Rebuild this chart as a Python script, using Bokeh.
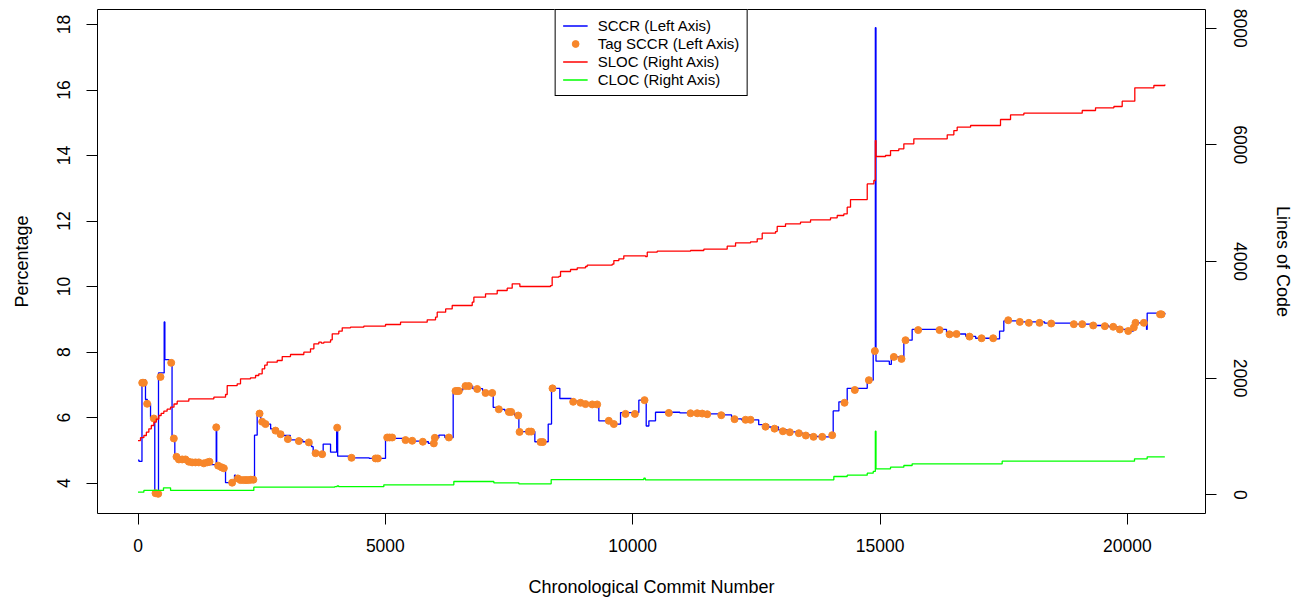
import math
from bokeh.plotting import figure
from bokeh.models import (Range1d, LinearAxis, FixedTicker, Legend, LegendItem,
                          ColumnDataSource)
from bokeh.embed import file_html
from bokeh.resources import INLINE

# ---------------- data ----------------
# SCCR (percentage, left axis) as a step series: value holds from x until next x
sccr_x = [0, 20, 80, 151, 189, 253, 339, 414, 529, 543, 628, 688, 744, 787, 887, 987,
          1186, 1385, 1435, 1581, 1591, 1684, 1769, 1951, 1973, 2083, 2183, 2355, 2409,
          2482, 2541, 2681, 2830, 2930, 3079, 3329, 3478, 3508, 3541, 3743, 3892, 4016,
          4036, 4275, 4674, 5003, 5172, 5372, 5571, 5720, 5870, 6000, 6081, 6203, 6371,
          6568, 6767, 6966, 7066, 7180, 7265, 7415, 7564, 7614, 7699, 8022, 8292, 8359,
          8527, 8760, 8959, 9209, 9315, 9557, 9754, 10124, 10273, 10327, 10461, 10953,
          11451, 11850, 11999, 12198, 12547, 12746, 12946, 13145, 13295, 13444, 13594,
          13893, 13992, 14053, 14168, 14336, 14741, 14862, 14905, 14918, 15188, 15228,
          15481, 15649, 16344, 16484, 16733, 16932, 17281, 17416, 17502, 17829, 18327,
          18925, 19324, 19623, 19822, 20022, 20121, 20164, 20387, 20400, 20757]
sccr_y = [4.70, 4.66, 7.15, 6.55, 6.42, 6.00, 3.68, 7.36, 8.92, 7.77, 7.70, 5.36, 4.80,
          4.72, 4.68, 4.63, 4.62, 4.60, 4.56, 5.70, 4.52, 4.47, 4.01, 4.24, 4.12, 4.10,
          4.11, 5.46, 6.12, 5.90, 5.80, 5.65, 5.55, 5.45, 5.32, 5.26, 5.22, 5.11, 4.91,
          5.19, 4.94, 5.69, 4.82, 4.77, 4.75, 5.41, 5.36, 5.31, 5.28, 5.26, 5.21, 5.38,
          5.46, 5.39, 6.84, 6.96, 6.88, 6.82, 6.78, 6.31, 6.25, 6.20, 6.15, 6.06, 5.57,
          5.26, 5.80, 6.89, 6.58, 6.50, 6.43, 6.40, 5.90, 5.80, 6.15, 6.53, 5.74, 5.90,
          6.16, 6.14, 6.11, 6.08, 5.96, 5.93, 5.78, 5.71, 5.62, 5.56, 5.52, 5.47, 5.42,
          5.41, 5.46, 6.20, 6.48, 6.89, 7.14, 8.06, 17.90, 7.72, 7.62, 7.85, 8.36, 8.69,
          8.59, 8.55, 8.48, 8.42, 8.40, 8.64, 8.95, 8.92, 8.88, 8.85, 8.81, 8.77, 8.69,
          8.64, 8.75, 8.89, 8.69, 9.19, 9.15]

# Tag SCCR points (left axis)
tag_x = [85, 118, 185, 320, 354, 408, 454, 671, 724, 778, 826, 893, 960, 1027, 1094, 1161,
         1229, 1330, 1398, 1445, 1581, 1620, 1688, 1735, 1903, 2018, 2072, 2133, 2183, 2232,
         2282, 2332, 2457, 2510, 2577, 2779, 2881, 3029, 3251, 3453, 3589, 3723, 4026, 4316,
         4802, 4848, 5037, 5085, 5138, 5408, 5543, 5757, 5980, 6000, 6284, 6418, 6452, 6486,
         6620, 6688, 6857, 7025, 7160, 7294, 7496, 7544, 7686, 7713, 7901, 7949, 8136, 8184,
         8379, 8797, 8945, 9046, 9182, 9282, 9517, 9619, 9855, 10044, 10239, 10730, 11169,
         11304, 11405, 11507, 11790, 12059, 12281, 12382, 12685, 12867, 13036, 13176, 13358,
         13500, 13655, 13831, 14033, 14282, 14490, 14774, 14895, 15279, 15434, 15515, 15771,
         16203, 16404, 16546, 16809, 17052, 17287, 17591, 17825, 18008, 18224, 18460, 18917,
         19087, 19309, 19544, 19714, 19847, 20017, 20130, 20164, 20333, 20660, 20690]
tag_y = [7.06, 7.06, 6.42, 5.97, 3.69, 3.67, 7.24, 7.67, 5.36, 4.80, 4.72, 4.72, 4.72, 4.65,
         4.63, 4.63, 4.63, 4.60, 4.63, 4.65, 5.70, 4.53, 4.48, 4.45, 4.01, 4.14, 4.09, 4.09,
         4.09, 4.09, 4.10, 4.10, 6.12, 5.87, 5.80, 5.60, 5.49, 5.34, 5.28, 5.24, 4.91, 4.88,
         5.69, 4.77, 4.75, 4.75, 5.39, 5.39, 5.39, 5.31, 5.29, 5.26, 5.21, 5.38, 5.39, 6.81,
         6.81, 6.81, 6.96, 6.96, 6.87, 6.75, 6.75, 6.25, 6.17, 6.17, 6.06, 5.56, 5.57, 5.57,
         5.25, 5.25, 6.89, 6.48, 6.45, 6.41, 6.40, 6.40, 5.90, 5.80, 6.11, 6.11, 6.53, 6.14,
         6.13, 6.13, 6.12, 6.10, 6.07, 5.95, 5.93, 5.93, 5.72, 5.66, 5.58, 5.55, 5.52, 5.45,
         5.41, 5.41, 5.46, 6.45, 6.84, 7.14, 8.03, 7.85, 7.79, 8.36, 8.67, 8.67, 8.54, 8.55,
         8.47, 8.42, 8.42, 8.97, 8.92, 8.89, 8.89, 8.87, 8.85, 8.85, 8.81, 8.79, 8.77, 8.69,
         8.64, 8.75, 8.89, 8.89, 9.15, 9.15]

# SLOC (lines of code, right axis), step series
sloc_x = [0, 50, 118, 169, 219, 269, 320, 369, 421, 468, 522, 588, 657, 727, 792, 1027,
          1533, 1769, 1803, 2005, 2072, 2274, 2376, 2442, 2510, 2561, 2611, 2814, 2915, 3082,
          3352, 3487, 3555, 3655, 3707, 3756, 3892, 3926, 4059, 4128, 4295, 4564, 5003, 5307,
          5846, 6014, 6048, 6219, 6351, 6756, 6789, 7025, 7261, 7463, 7564, 7719, 8339, 8372,
          8507, 8541, 8743, 8879, 9046, 9080, 9585, 9619, 9720, 9820, 10259, 10294, 10495,
          11169, 11438, 11910, 12079, 12382, 12517, 12618, 12887, 12921, 13089, 13392, 13595,
          13999, 14134, 14268, 14336, 14403, 14741, 14875, 14905, 14918, 15110, 15212, 15379,
          15481, 15683, 16358, 16492, 16559, 16830, 17435, 17638, 17907, 19087, 19356, 19727,
          19895, 20150, 20535, 20757]
sloc_y = [930, 979, 1016, 1074, 1131, 1188, 1245, 1298, 1359, 1397, 1434, 1467, 1502, 1556,
          1605, 1645, 1673, 1719, 1873, 1902, 1988, 2005, 2045, 2073, 2160, 2222, 2274, 2302,
          2370, 2405, 2445, 2502, 2588, 2616, 2600, 2616, 2657, 2759, 2805, 2863, 2874, 2890,
          2919, 2959, 2999, 3045, 3130, 3187, 3245, 3302, 3388, 3445, 3502, 3542, 3616, 3571,
          3587, 3731, 3743, 3828, 3862, 3891, 3914, 3936, 3953, 4016, 4045, 4097, 4085, 4159,
          4176, 4188, 4211, 4262, 4319, 4336, 4388, 4485, 4513, 4600, 4645, 4673, 4714, 4748,
          4788, 4816, 4931, 5062, 5330, 5388, 6073, 5800, 5817, 5902, 5931, 6017, 6102, 6171,
          6245, 6302, 6331, 6434, 6514, 6542, 6588, 6634, 6657, 6748, 6977, 7017, 7034]

# CLOC (lines of code, right axis), step series
cloc_x = [0, 118, 515, 658, 2341, 3976, 4026, 4056, 4969, 6384, 7193, 7698, 8352, 10205,
          10225, 10255, 14033, 14066, 14336, 14741, 14862, 14905, 14918, 15212, 15481, 15649,
          17469, 20144, 20400, 20757]
cloc_y = [45, 74, 120, 74, 130, 139, 154, 139, 171, 228, 205, 188, 260, 260, 283, 257, 257,
          313, 336, 370, 400, 1089, 445, 473, 502, 531, 576, 616, 651, 651]

x_ticks = [0, 5000, 10000, 15000, 20000]
x_tick_labels = ["0", "5000", "10000", "15000", "20000"]
left_ticks = [4, 6, 8, 10, 12, 14, 16, 18]
left_tick_labels = ["4", "6", "8", "10", "12", "14", "16", "18"]
right_ticks = [0, 2000, 4000, 6000, 8000]
right_tick_labels = ["0", "2000", "4000", "6000", "8000"]

series_names = ["SCCR (Left Axis)", "Tag SCCR (Left Axis)", "SLOC (Right Axis)", "CLOC (Right Axis)"]
x_title = "Chronological Commit Number"
left_title = "Percentage"
right_title = "Lines of Code"

# ---------------- figure ----------------
FONT = "Liberation Sans"
BLUE, ORANGE, RED, GREEN = "#0000FF", "#F7862A", "#FF0000", "#00FF00"

p = figure(width=1298, height=600, output_backend="svg", toolbar_location=None,
           x_range=Range1d(-819, 21579), y_range=Range1d(3.069, 18.458),
           min_border_left=97, min_border_right=93, min_border_top=9, min_border_bottom=87,
           background_fill_color="white", border_fill_color="white")
p.extra_y_ranges = {"loc": Range1d(-321, 8320)}
p.xgrid.visible = False
p.ygrid.visible = False
p.outline_line_color = "black"
p.outline_line_width = 1
p.outline_line_alpha = 1

right_axis = LinearAxis(y_range_name="loc")
p.add_layout(right_axis, "right")

p.xaxis.ticker = FixedTicker(ticks=x_ticks)
p.xaxis.major_label_overrides = dict(zip(x_ticks, x_tick_labels))
p.yaxis[0].ticker = FixedTicker(ticks=left_ticks)
p.yaxis[0].major_label_overrides = dict(zip(left_ticks, left_tick_labels))
right_axis.ticker = FixedTicker(ticks=right_ticks)
right_axis.major_label_overrides = dict(zip(right_ticks, right_tick_labels))

for ax in p.axis:
    ax.axis_line_color = None
    ax.major_tick_out = 11
    ax.major_tick_in = 0
    ax.major_tick_line_color = "black"
    ax.major_tick_line_width = 1
    ax.minor_tick_line_color = None
    ax.major_label_text_font = FONT
    ax.major_label_text_font_size = "17.5px"
    ax.major_label_text_color = "black"
    ax.axis_label_text_font = FONT
    ax.axis_label_text_font_size = "18px"
    ax.axis_label_text_font_style = "normal"
    ax.axis_label_text_color = "black"

p.xaxis.major_label_standoff = 14
p.xaxis.axis_label = x_title
p.xaxis.axis_label_standoff = 22

left_axis = p.yaxis[0]
left_axis.major_label_orientation = "vertical"
left_axis.major_label_standoff = 16
left_axis.axis_label = left_title
left_axis.axis_label_standoff = 23

right_axis.major_label_orientation = "vertical"
right_axis.major_label_standoff = 17
right_axis.axis_label = right_title
right_axis.axis_label_standoff = 23

# ---------------- data marks ----------------
src_sccr = ColumnDataSource(dict(x=sccr_x, y=sccr_y))
src_tag = ColumnDataSource(dict(x=tag_x, y=tag_y))
src_sloc = ColumnDataSource(dict(x=sloc_x, y=sloc_y))
src_cloc = ColumnDataSource(dict(x=cloc_x, y=cloc_y))

r_sccr = p.step("x", "y", source=src_sccr, mode="after", line_color=BLUE, line_width=1.3)
r_tag = p.scatter("x", "y", source=src_tag, size=7, fill_color=ORANGE, line_color=ORANGE)
r_sloc = p.step("x", "y", source=src_sloc, mode="after", line_color=RED, line_width=1.3,
                y_range_name="loc")
r_cloc = p.step("x", "y", source=src_cloc, mode="after", line_color=GREEN, line_width=1.3,
                y_range_name="loc")

legend = Legend(items=[LegendItem(label=series_names[0], renderers=[r_sccr]),
                       LegendItem(label=series_names[1], renderers=[r_tag]),
                       LegendItem(label=series_names[2], renderers=[r_sloc]),
                       LegendItem(label=series_names[3], renderers=[r_cloc])],
                location="top_center", orientation="vertical", margin=0, padding=7,
                spacing=1, glyph_width=25, glyph_height=17, label_height=17,
                label_standoff=10, label_text_font=FONT, label_text_font_size="15px",
                label_text_color="black",
                border_line_color="black", border_line_width=1, border_line_alpha=1,
                background_fill_color="white", background_fill_alpha=1)
p.add_layout(legend)

open("out.html", "w").write(file_html(p, INLINE))
